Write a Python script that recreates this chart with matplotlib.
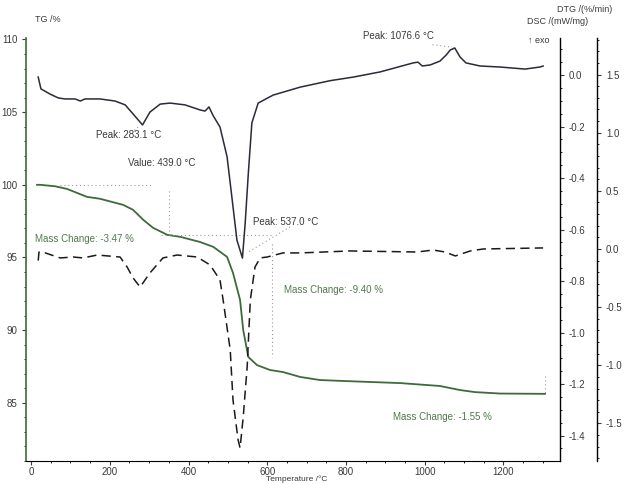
import matplotlib
matplotlib.use("Agg")
import matplotlib.pyplot as plt
from matplotlib.ticker import MultipleLocator, FormatStrFormatter

plt.rcParams["font.family"] = ["Liberation Sans", "DejaVu Sans"]
plt.rcParams["axes.unicode_minus"] = False

# TG curve (%)
tg_temp = [15, 23, 61, 91, 142, 175, 234, 259, 285, 310, 346, 379, 429, 463, 498,
           513, 531, 539, 552, 574, 607, 640, 684, 734, 798, 938, 1039, 1090, 1128,
           1192, 1306]
tg_val = [100.0, 100.0, 99.9, 99.72, 99.17, 99.04, 98.62, 98.28, 97.59, 97.04, 96.56,
          96.42, 96.07, 95.73, 95.04, 93.94, 92.08, 90.01, 88.15, 87.6, 87.26, 87.12,
          86.78, 86.57, 86.5, 86.36, 86.16, 85.88, 85.74, 85.64, 85.62]

# DSC curve (mW/mg)
dsc_temp = [18, 25, 48, 69, 86, 112, 125, 137, 175, 213, 239, 259, 283.1, 302, 328,
            353, 391, 430, 442, 452, 463, 480, 498, 511, 523, 537.0, 544, 552, 561,
            577, 615, 684, 760, 819, 887, 971, 983, 994, 1014, 1039, 1055, 1065,
            1076.6, 1090, 1105, 1141, 1192, 1255, 1293, 1301]
dsc_val = [-0.008, -0.054, -0.074, -0.089, -0.093, -0.093, -0.101, -0.093, -0.093,
           -0.101, -0.116, -0.151, -0.194, -0.144, -0.113, -0.109, -0.116, -0.136,
           -0.14, -0.124, -0.159, -0.202, -0.318, -0.485, -0.641, -0.711, -0.575,
           -0.381, -0.186, -0.109, -0.078, -0.047, -0.022, -0.008, 0.012, 0.047, 0.05,
           0.035, 0.039, 0.054, 0.078, 0.097, 0.105, 0.07, 0.047, 0.035, 0.031,
           0.023, 0.031, 0.035]

# DTG curve (%/min)
dtg_temp = [18, 20, 36, 74, 107, 132, 168, 226, 244, 259, 277, 302, 335, 371, 422,
            455, 480, 488, 506, 513, 526, 531, 539, 549, 557, 569, 582, 600, 640,
            684, 811, 981, 1022, 1052, 1078, 1116, 1149, 1301]
dtg_val = [-0.1, -0.026, -0.034, -0.077, -0.069, -0.077, -0.052, -0.069, -0.155,
           -0.249, -0.327, -0.206, -0.077, -0.052, -0.069, -0.138, -0.267, -0.44,
           -0.868, -1.298, -1.642, -1.711, -1.445, -1.015, -0.439, -0.155, -0.077,
           -0.069, -0.034, -0.034, -0.017, -0.026, -0.009, -0.026, -0.06, -0.017,
           0.0, 0.009]

mass_changes = [-3.47, -9.40, -1.55]
step_temps = [350, 612, 1306]

green = "#3d6b3a"
green_txt = "#4f7a4a"
dsc_col = "#2a2a38"
txt_col = "#3a3a3a"

fig = plt.figure(figsize=(6.25, 4.84), dpi=100)
ax = fig.add_axes([26 / 625, 1 - 461 / 484, (560 - 26) / 625, (461 - 38) / 484])
ax_dsc = ax.twinx()
ax_dtg = ax.twinx()
ax_dtg.spines["right"].set_position(("axes", (597 - 26) / (560 - 26)))

for a in (ax, ax_dsc, ax_dtg):
    a.spines["top"].set_visible(False)
    a.tick_params(labelsize=7, colors=txt_col, length=3, width=0.8)
    a.tick_params(which="minor", length=1.5, width=0.6)

ax.spines["left"].set_color(green)
ax.spines["left"].set_linewidth(1.2)
ax.spines["right"].set_visible(False)
ax_dtg.spines["left"].set_visible(False)
ax_dsc.spines["left"].set_visible(False)
ax_dsc.spines["bottom"].set_visible(False)
ax_dtg.spines["bottom"].set_visible(False)
ax_dsc.spines["right"].set_linewidth(1.0)
ax_dtg.spines["right"].set_linewidth(1.0)

# curves
ax.plot(tg_temp, tg_val, color=green, lw=1.3)
ax_dsc.plot(dsc_temp, dsc_val, color=dsc_col, lw=1.1)
ax_dtg.plot(dtg_temp, dtg_val, color="#1a1a1a", lw=1.1, ls=(0, (6, 3.5)))

ax.set_xlim(-13, 1344)
ax.set_ylim(81, 110.1)
ax_dsc.set_ylim(-1.499, 0.1437)
ax_dtg.set_ylim(-1.823, 1.814)

ax.xaxis.set_major_locator(MultipleLocator(200))
ax.xaxis.set_minor_locator(MultipleLocator(50))
ax.yaxis.set_major_locator(MultipleLocator(5))
ax.yaxis.set_minor_locator(MultipleLocator(1))
ax_dsc.yaxis.set_major_locator(MultipleLocator(0.2))
ax_dsc.yaxis.set_minor_locator(MultipleLocator(0.05))
ax_dsc.yaxis.set_major_formatter(FormatStrFormatter("%.1f"))
ax_dtg.yaxis.set_major_locator(MultipleLocator(0.5))
ax_dtg.yaxis.set_minor_locator(MultipleLocator(0.1))
ax_dtg.yaxis.set_major_formatter(FormatStrFormatter("%.1f"))
ax.tick_params(axis="y", pad=3)
ax.tick_params(axis="x", pad=1)

# mass change steps
lvl0 = 100.0
lvl1 = lvl0 + mass_changes[0]
lvl2 = lvl1 + mass_changes[1]
lvl3 = lvl2 + mass_changes[2]
dot = dict(color="#9a9a9a", lw=0.8, ls=(0, (1, 2.5)))
ax.plot([74, 310], [lvl0, lvl0], **dot)
ax.plot([330, 610], [lvl1, lvl1], **dot)
ax.plot([step_temps[0], step_temps[0]], [99.6, lvl1 + 0.3], **dot)
ax.plot([step_temps[1], step_temps[1]], [lvl1 - 0.6, lvl2 + 1.0], **dot)
ax.plot([step_temps[2], step_temps[2]], [lvl3 + 1.3, lvl3], **dot)

ax.text(10, 96.25, f"Mass Change: {mass_changes[0]:.2f} %", color=green_txt,
        fontsize=7, va="center")
ax.text(643, 92.77, f"Mass Change: {mass_changes[1]:.2f} %", color=green_txt,
        fontsize=7, va="center")
ax.text(920, 84.02, f"Mass Change: {mass_changes[2]:.2f} %", color=green_txt,
        fontsize=7, va="center")

# DSC peak labels
ax_dsc.text(165, -0.233, "Peak: 283.1 °C", color=txt_col, fontsize=7, va="center")
ax_dsc.text(246, -0.342, "Value: 439.0 °C", color=txt_col, fontsize=7, va="center")
ax_dsc.text(564, -0.571, "Peak: 537.0 °C", color=txt_col, fontsize=7, va="center")
ax_dsc.text(844, 0.151, "Peak: 1076.6 °C", color=txt_col, fontsize=7, va="center",
            clip_on=False)
ax_dsc.plot([658, 549], [-0.59, -0.69], **dot)
ax_dsc.plot([1020, 1070], [0.118, 0.108], **dot)
ax_dsc.plot([262, 275], [-0.215, -0.198], **dot)

# axis titles
fig.text(35 / 625, 1 - 20 / 484, "TG /%", fontsize=6.5, color=txt_col, va="center")
fig.text(527 / 625, 1 - 22 / 484, "DSC /(mW/mg)", fontsize=6.5, color=txt_col, va="center")
fig.text(557 / 625, 1 - 10 / 484, "DTG /(%/min)", fontsize=6.5, color=txt_col, va="center")
fig.text(528 / 625, 1 - 40 / 484, "↑ exo", fontsize=6.5, color=txt_col, va="center")
fig.text(297 / 625, 1 - 479 / 484, "Temperature /°C", fontsize=6, color=txt_col,
         ha="center", va="center")

fig.savefig("out.png", dpi=100)
